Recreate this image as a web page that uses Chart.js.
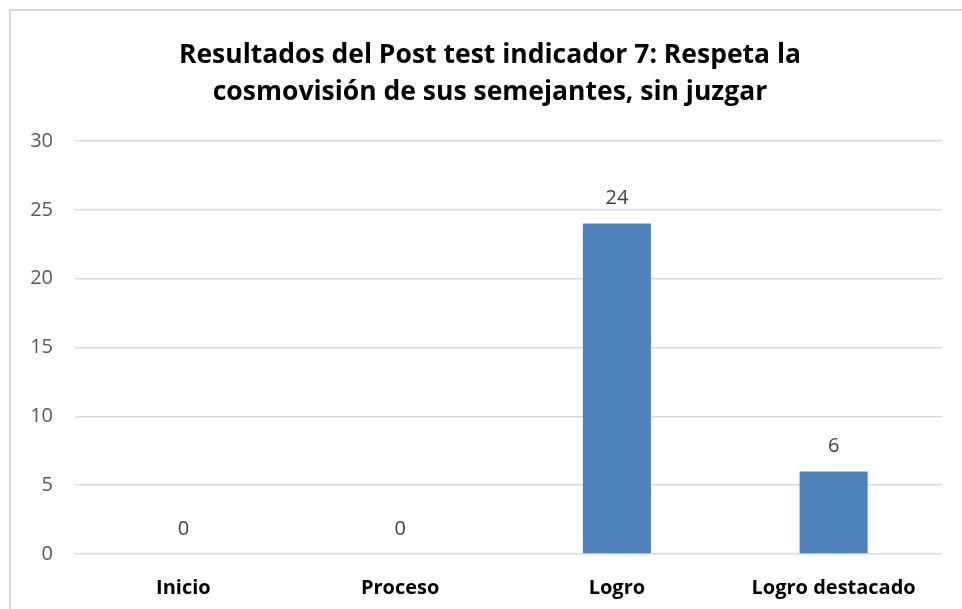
<!DOCTYPE html>
<html>
<head>
<meta charset="utf-8">
<script src="https://cdn.jsdelivr.net/npm/chart.js@4"></script>
<style>
  html, body { margin: 0; padding: 0; background: #fff; overflow: hidden; }
  #frame { position: absolute; left: 9px; top: 9px; width: 980px; height: 640px; border: 2px solid #d9d9d9; }
  #wrap { position: absolute; left: 0; top: 0; width: 962px; height: 609px; }
</style>
</head>
<body>
<div id="frame"></div>
<div id="wrap"><canvas id="chart"></canvas></div>
<script>
const categories = ["Inicio", "Proceso", "Logro", "Logro destacado"];
const values = [0, 0, 24, 6];
const yTicks = [0, 5, 10, 15, 20, 25, 30];
const titleLines = ["Resultados del Post test indicador 7: Respeta la", "cosmovisión de sus semejantes, sin juzgar"];

const font = "'Open Sans', 'Noto Sans', sans-serif";

// title drawn by hand so it can sit centred on the whole frame
const titleDraw = {
    id: "titleDraw",
    afterDraw(chart) {
        const ctx = chart.ctx;
        ctx.save();
        ctx.font = "bold 26.5px " + font;
        ctx.fillStyle = "#000";
        ctx.textAlign = "center";
        ctx.textBaseline = "middle";
        titleLines.forEach((line, i) => ctx.fillText(line, 490, 55 + i * 37));
        ctx.restore();
    }
};

// value labels above each bar
const valueLabels = {
    id: "valueLabels",
    afterDatasetsDraw(chart) {
        const ctx = chart.ctx;
        const meta = chart.getDatasetMeta(0);
        ctx.save();
        ctx.font = "20px " + font;
        ctx.fillStyle = "#404040";
        ctx.textAlign = "center";
        ctx.textBaseline = "middle";
        meta.data.forEach((bar, i) => {
            ctx.fillText(String(values[i]), bar.x, bar.y - 25);
        });
        ctx.restore();
    }
};

new Chart(document.getElementById("chart"), {
    type: "bar",
    data: {
        labels: categories,
        datasets: [{ data: values, backgroundColor: "#4f81bd", borderWidth: 0,
                     categoryPercentage: 1, barPercentage: 0.314 }]
    },
    options: {
        responsive: true, maintainAspectRatio: false, animation: false,
        layout: { padding: { top: 141, right: 20, bottom: 0, left: 0 } },
        plugins: {
            legend: { display: false },
            tooltip: { enabled: false },
            title: { display: false }
        },
        scales: {
            x: {
                grid: { display: false },
                border: { display: false },
                ticks: { color: "#000", font: { family: font, size: 20, weight: "bold" }, padding: 14 },
                afterFit: s => { s.height = 55; }
            },
            y: {
                min: 0, max: 30,
                afterBuildTicks: s => { s.ticks = yTicks.map(v => ({ value: v })); },
                grid: { color: "#d9d9d9", lineWidth: 1.5, drawTicks: false },
                border: { display: false },
                ticks: { color: "#595959", font: { family: font, size: 20 }, padding: 22 },
                afterFit: s => { s.width = 75; }
            }
        }
    },
    plugins: [valueLabels, titleDraw]
});
</script>
</body>
</html>
